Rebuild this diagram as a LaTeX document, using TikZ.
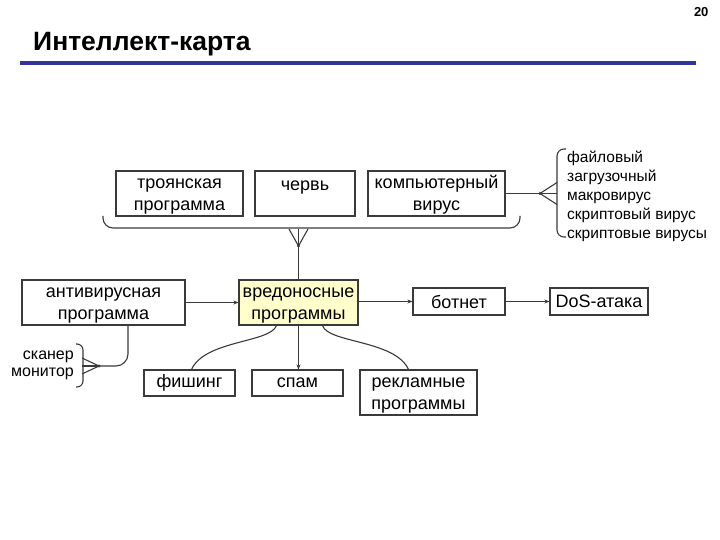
\documentclass[tikz,border=0pt]{standalone}
\usepackage{fontspec}
\setmainfont{Liberation Sans}
\usetikzlibrary{arrows.meta}
\definecolor{linegray}{HTML}{3A3A3A}
\definecolor{titleblue}{HTML}{333399}
\definecolor{hilite}{HTML}{FFFFCC}
\newcommand{\tallline}{\rule{0pt}{16pt}}
\tikzset{box/.style = {draw=linegray, line width=1.1pt, fill=white, inner sep=0pt, align=center, font=\fontsize{18}{22}\selectfont},
         twoline/.style = {box, minimum height=45},
         link/.style = {draw=linegray, line width=1.1pt},
         arr/.style = {link, -{Stealth[length=5pt,width=4pt]}},
         note/.style = {inner sep=0pt, font=\fontsize{15.5}{19}\selectfont},
         crowfoot/.pic = {  \draw[link] (0,0) -- (17,-#1);
                            \draw[link] (0,0) -- (17,0);
                            \draw[link] (0,0) -- (17,#1);
                            \fill[linegray] (0,0) circle (1.6);}}

\begin{document}
\begin{tikzpicture}[x=1pt,y=-1pt]
        \useasboundingbox (0,0) rectangle (720,540);
        \node[anchor=base east, font=\fontsize{13}{13}\selectfont\bfseries](page)at(712,17){20};
        \node[anchor=base west, inner sep=0pt, font=\fontsize{26.5}{26.5}\selectfont\bfseries](title)at(33,51){Интеллект-карта};
        \draw[titleblue, line width=3.5pt](20,63)--(696,63);

        % malware kinds
        \node[twoline, minimum width=127](trojan)at(179.5,193.5){\tallline троянская\\программа};
        \node[twoline, minimum width=100](worm)at(305,193.5){\tallline червь\\\mbox{}};
        \node[twoline, minimum width=137](virus)at(436.5,193.5){\tallline компьютерный\\вирус};
        \draw[link, rounded corners=10](103,216)--(103,228)--(520,228)--(520,216);

        \node[twoline, fill=hilite, minimum width=119](malware)at(298.5,302.5){\tallline вредоносные\\программы};
        \coordinate(topfork)at(298.5,246);
        \pic[rotate=90] at (topfork) {crowfoot=9.5};
        \draw[link](topfork)--(malware.north);

        % virus kinds
        \coordinate(virfork)at(540,193.5);
        \draw[link](virus.east)--(virfork);
        \pic at (virfork) {crowfoot=11};
        \draw[link, rounded corners=7](566,149)--(557,149)--(557,237)--(566,237);
        \node[note, align=left, anchor=west](viruskinds)at(567,196){файловый\\загрузочный\\макровирус\\скриптовый вирус\\скриптовые вирусы};

        % antivirus
        \node[twoline, minimum width=163](antivir)at(103.5,302.5){\tallline антивирусная\\программа};
        \draw[arr](antivir)--(malware);
        \coordinate(scanfork)at(99,366);
        \draw[link, rounded corners=12]([xshift=24.5pt]antivir.south)|-(scanfork);
        \pic[rotate=180] at (scanfork) {crowfoot=8};
        \draw[link, rounded corners=6](76,344)--(83,344)--(83,387)--(76,387);
        \node[inner sep=0pt, align=right, anchor=east, font=\fontsize{16}{17}\selectfont](modes)at(74,365){сканер\\монитор};

        % consequences
        \node[box, minimum width=92, minimum height=27](botnet)at(459,301.5){ботнет};
        \node[box, minimum width=98, minimum height=27](dos)at(599,301.5){DoS-атака};
        \draw[arr](malware.east |- botnet)--(botnet);
        \draw[arr](botnet)--(dos);

        \node[box, minimum width=91, minimum height=26](phish)at(189.5,383){фишинг};
        \node[box, minimum width=91, minimum height=26](spam)at(297.5,383){спам};
        \node[twoline, minimum width=117](ads)at(418.5,392.5){\tallline рекламные\\программы};
        \draw[arr](malware.south)--(malware.south |- spam.north);
        \draw[link]([xshift=-22pt]malware.south)..controls(270,343)and(205,340)..([xshift=2pt]phish.north);
        \draw[link]([xshift=24pt]malware.south)..controls(328,343)and(395,340)..([xshift=-10pt]ads.north);
    \end{tikzpicture}
\end{document}
